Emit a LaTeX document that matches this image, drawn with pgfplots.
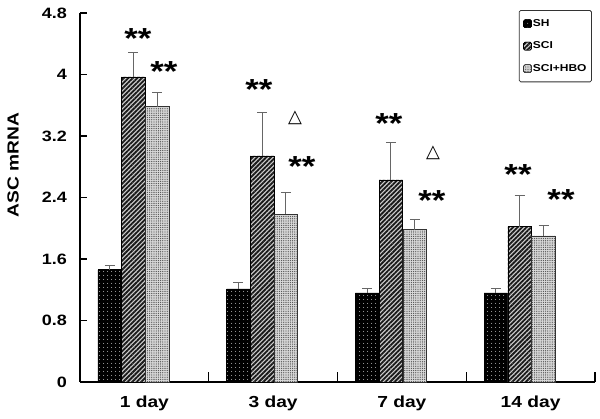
\documentclass[border=0pt]{standalone}
\usepackage{pgfplots}
\pgfplotsset{compat=1.18}
\usetikzlibrary{patterns.meta}
\usepackage{fontspec}
\setmainfont{Liberation Sans}[FakeStretch=1.2]
\newfontfamily\dejavu{DejaVu Sans}
\newcommand\starfont{\bfseries\fontsize{29}{29}\selectfont}
\newcommand\stars[2]{\node[anchor=base, inner sep=0pt, yshift=-16.5pt, font=\starfont] at (axis cs:#1,#2) {**};}
\newcommand\tri[2]{\node[anchor=center, inner sep=0pt, font=\dejavu\bfseries\fontsize{18}{18}\selectfont] at (axis cs:#1,#2) {△};}
\begin{document}
\begin{tikzpicture}
\path[use as bounding box] (-80pt,-37pt) rectangle (520pt,382pt);
\begin{axis}[
  scale only axis, width=515pt, height=369pt,
  xmin=0, xmax=4, ymin=0, ymax=4.8,
  clip=false,
  axis lines=left,
  axis line style={-, line width=1.3pt},
  tick align=inside,
  tick style={line width=1.3pt, black},
  ytick={0,0.8,1.6,2.4,3.2,4,4.8},
  yticklabels={0,0.8,1.6,2.4,3.2,4,4.8},
  ytick style={/pgfplots/major tick length=7pt},
  xtick={1,2,3,4},
  xticklabels={},
  xtick style={/pgfplots/major tick length=10pt},
  extra x ticks={0.5,1.5,2.5,3.5},
  extra x tick labels={1 day,3 day,7 day,14 day},
  extra x tick style={xtick style={/pgfplots/major tick length=0pt}},
  x tick label style={font=\bfseries\fontsize{16}{16}\selectfont, inner sep=0pt, yshift=-14pt},
  y tick label style={font=\bfseries\fontsize{15}{15}\selectfont, inner sep=0pt, xshift=-13pt},
  ylabel={ASC mRNA},
  every axis y label/.style={at={(axis description cs:-0.13,0.588)}, anchor=center, rotate=90,
    font=\bfseries\fontsize{16}{16}\selectfont},
  legend cell align=left,
  legend image code/.code={\draw[#1] (0pt,-4pt) rectangle (8pt,4pt);},
  legend style={at={(0.994,1.008)}, anchor=north east, draw=black!80, line width=0.8pt,
    rounded corners=1.5pt,
    font=\bfseries\fontsize{10}{10}\selectfont, row sep=12pt,
    inner xsep=4pt, inner ysep=8pt,
    nodes={inner sep=1pt}},
  every axis plot/.append style={ybar, bar shift=0pt, bar width=0.183},
  error bars/y dir=plus,
  error bars/y explicit,
  error bars/error bar style={line width=1pt, black!60},
  error bars/error mark options={rotate=90, mark size=5pt, line width=1pt, black!60},
]
\addplot[draw=black, line width=0.6pt, fill=black,
  postaction={pattern={Dots[distance=4pt, radius=0.55pt]}, pattern color=white}]
  coordinates {(0.23,1.46) +- (0,0.05) (1.23,1.21) +- (0,0.08) (2.23,1.16) +- (0,0.05) (3.23,1.16) +- (0,0.05)};
\addplot[draw=black, line width=0.6pt, fill=gray!40,
  postaction={pattern={Lines[angle=45, distance=3.2pt, line width=1.8pt]}, pattern color=black!90}]
  coordinates {(0.415,3.97) +- (0,0.32) (1.415,2.94) +- (0,0.56) (2.415,2.63) +- (0,0.48) (3.415,2.02) +- (0,0.40)};
\addplot[draw=black!80, line width=0.6pt, fill=gray!30,
  postaction={pattern={Dots[distance=2.2pt, radius=0.65pt]}, pattern color=black!70}]
  coordinates {(0.60,3.58) +- (0,0.19) (1.60,2.18) +- (0,0.29) (2.60,1.98) +- (0,0.14) (3.60,1.90) +- (0,0.13)};
\legend{SH,SCI,SCI+HBO}
\stars{0.45}{4.55}
\stars{0.652}{4.12}
\stars{1.39}{3.89}
\tri{1.67}{3.43}
\stars{1.724}{2.89}
\stars{2.40}{3.45}
\tri{2.742}{2.98}
\stars{2.734}{2.45}
\stars{3.402}{2.78}
\stars{3.736}{2.46}
\end{axis}
\end{tikzpicture}
\end{document}
